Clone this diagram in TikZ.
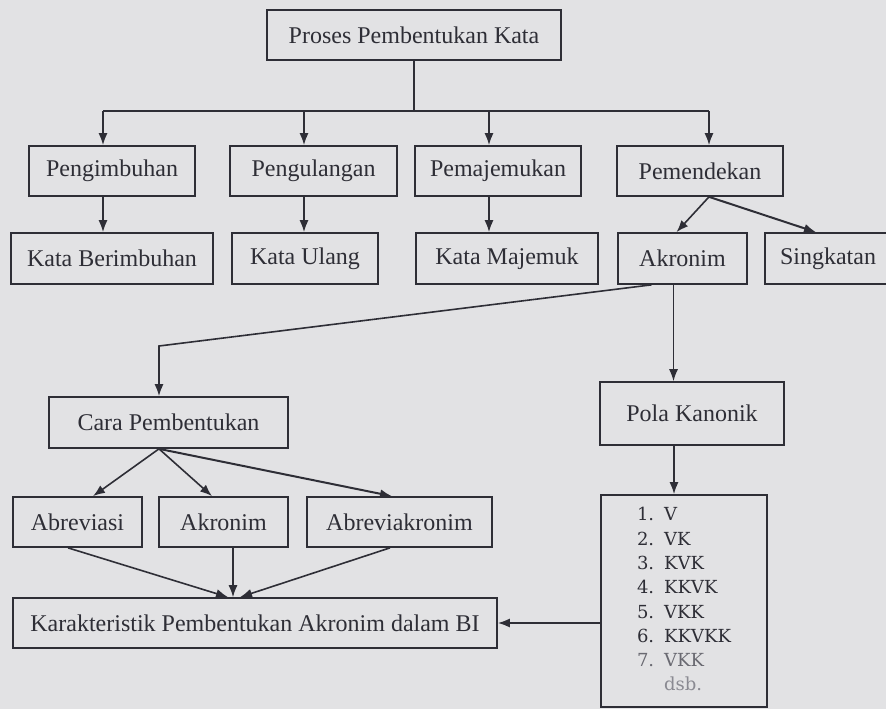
\documentclass[tikz,border=0pt]{standalone}
\usepackage{fontspec}
\setmainfont{Liberation Serif}
\newfontfamily\listfont{DejaVu Serif}
\usetikzlibrary{positioning,arrows.meta}
\definecolor{scan}{RGB}{226,226,228}
\definecolor{ink}{RGB}{46,46,54}
\definecolor{faint}{RGB}{105,105,113}
\definecolor{fainter}{RGB}{138,138,146}

\begin{document}
\begin{tikzpicture}[x=1pt,y=-1pt,
        every node/.style={draw=ink, line width=1.7pt, text=ink, inner sep=0pt,
          font=\fontsize{24}{28}\selectfont},
        box/.style={rectangle, minimum height=50pt},
        link/.style={draw=ink, line width=1.6pt},
        >={Latex[length=12pt,width=9pt]}
      ]
      \fill[scan] (0,0) rectangle (886,709);
      \useasboundingbox (0,0) rectangle (886,709);
      % top
      \node [box, minimum width=294pt] (proses) at (414,35) {Proses Pembentukan Kata};
      % second row
      \node [box, minimum width=166pt] (imbuh) at (112,171) {Pengimbuhan};
      \node [box, minimum width=167pt] (ulang) at (313.5,171) {Pengulangan};
      \node [box, minimum width=166pt] (majemuk) at (498,171) {Pemajemukan};
      \node [box, minimum width=166pt] (pendek) at (700,171) {Pemendekan};
      % third row
      \node [box, minimum width=202pt, minimum height=51pt] (kimbuh) at (112,258.5) {Kata Berimbuhan};
      \node [box, minimum width=146pt, minimum height=51pt] (kulang) at (305,258.5) {Kata Ulang};
      \node [box, minimum width=182pt, minimum height=51pt] (kmajemuk) at (507,258.5) {Kata Majemuk};
      \node [box, minimum width=129pt, minimum height=51pt] (akronim) at (682.5,258.5) {Akronim};
      \node [box, minimum width=126pt, minimum height=51pt] (singkat) at (828,258.5) {Singkatan};
      % left branch
      \node [box, minimum width=239pt, minimum height=51pt] (cara) at (168.5,422.5) {Cara Pembentukan};
      \node [box, minimum width=129pt] (abrev) at (77.5,522) {Abreviasi};
      \node [box, minimum width=129pt] (akro) at (223.5,522) {Akronim};
      \node [box, minimum width=185pt] (abrevakro) at (399.5,522) {Abreviakronim};
      \node [box, minimum width=484pt] (ciri) at (255,623) {Karakteristik Pembentukan Akronim dalam BI};
      % right branch
      \node [box, minimum width=184pt, minimum height=63pt] (pola) at (692,413.5) {Pola Kanonik};
      \node [box, minimum width=166pt, minimum height=212pt,
             font=\listfont\fontsize{18}{24.3}\selectfont] (daftar) at (684,601) {%
        \begin{tabular}{@{}l@{\hspace{10pt}}l@{}}
          1. & V\\
          2. & VK\\
          3. & KVK\\
          4. & KKVK\\
          5. & VKK\\
          6. & KKVKK\\
          \color{faint}7. & \color{faint}VKK\\
             & \color{fainter}dsb.
        \end{tabular}};

      % connectors
      \coordinate (busL) at (103,111);
      \coordinate (busR) at (709,111);
      \coordinate (tap2) at (304,111);
      \coordinate (tap3) at (489,111);
      \draw [link] (proses.south) -- (proses.south |- busL);
      \draw [link] (busL) -- (busR);
      \draw [link,->] (busL) -- (busL |- imbuh.north);
      \draw [link,->] (tap2) -- (tap2 |- ulang.north);
      \draw [link,->] (tap3) -- (tap3 |- majemuk.north);
      \draw [link,->] (busR) -- (busR |- pendek.north);
      \draw [link,->] (busL |- imbuh.south) -- (busL |- kimbuh.north);
      \draw [link,->] (tap2 |- ulang.south) -- (tap2 |- kulang.north);
      \draw [link,->] (tap3 |- majemuk.south) -- (tap3 |- kmajemuk.north);
      \draw [link,->] (busR |- pendek.south) -- ([xshift=-6pt]akronim.north);
      \draw [link,->, line width=2pt] (busR |- pendek.south) -- ([xshift=-12pt]singkat.north);

      \coordinate (knee) at (159,346);
      \draw [link,->] ([xshift=-31pt]akronim.south) -- (knee) -- (knee |- cara.north);
      \draw [link,->, line width=1.2pt] ([xshift=-9pt]akronim.south) -- ([xshift=-9pt]akronim.south |- pola.north);
      \draw [link,->] ([xshift=-18pt]pola.south) -- ([xshift=-18pt]pola.south |- daftar.north);

      \draw [link,->] ([xshift=-9.5pt]cara.south) -- ([xshift=15.5pt]abrev.north);
      \draw [link,->] ([xshift=-9.5pt]cara.south) -- ([xshift=-11.5pt]akro.north);
      \draw [link,->, line width=2pt] ([xshift=-9.5pt]cara.south) -- ([xshift=-7.5pt]abrevakro.north);

      \draw [link,->] ([xshift=-9.5pt]abrev.south) -- ([xshift=-27pt]ciri.north);
      \draw [link,->, line width=1.2pt] ([xshift=9.5pt]akro.south) -- ([xshift=-22pt]ciri.north);
      \draw [link,->] ([xshift=-9.5pt]abrevakro.south) -- ([xshift=-15pt]ciri.north);
      \draw [link,<-] (ciri.east) -- (ciri.east -| daftar.west);
    \end{tikzpicture}
\end{document}
